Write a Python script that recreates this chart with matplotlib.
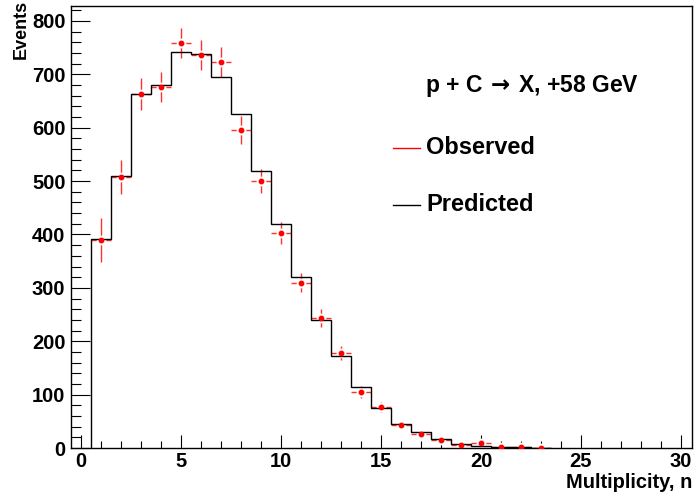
import matplotlib
matplotlib.use('Agg')
import matplotlib.pyplot as plt
import numpy as np
from matplotlib.ticker import MultipleLocator

plt.rcParams['font.family'] = ['Liberation Sans', 'DejaVu Sans']
plt.rcParams['font.weight'] = 'bold'
plt.rcParams['mathtext.default'] = 'bf'

# multiplicity bins (centred on integers)
n = [1, 2, 3, 4, 5, 6, 7, 8, 9, 10, 11, 12, 13, 14, 15, 16, 17, 18, 19, 20, 21, 22, 23]
predicted = [392, 510, 664, 680, 741, 739, 695, 626, 518, 419, 320, 239, 172,
             114, 74, 45, 30, 17, 7, 4, 1.5, 1, 0.5]
observed = [390, 508, 663, 677, 758, 737, 723, 596, 500, 403, 310, 243, 178,
            105, 77, 44, 27, 15, 6, 10, 1, 2, 0]
obs_err = [41, 32, 30, 28, 28, 28, 28, 26, 22, 21, 18, 17, 13,
           12, 9, 7, 5, 4, 3, 3, 1, 1, 0.5]

fig = plt.figure(figsize=(6.96, 4.96), dpi=100)
ax = fig.add_axes([71/696, 48/496, 621/696, 442/496])

nn = np.array(n)
edges = np.append(nn - 0.5, nn[-1] + 0.5)

# observed points with error crosses (gap around marker, ROOT style)
ax.errorbar(n, observed, xerr=0.5, yerr=obs_err, fmt='none', ecolor='#ff3030',
            elinewidth=1.0, capsize=0, zorder=2)
ax.plot(n, observed, 'o', ms=6, mfc='white', mec='white', zorder=2.5)
ax.stairs(predicted, edges, baseline=0, color='black', lw=1.0, zorder=3)
ax.plot(n, observed, 'o', ms=3.2, color='red', mec='red', zorder=4)

ax.set_xlim(-0.5, 30.55)
ax.set_ylim(0, 828)

ax.xaxis.set_major_locator(MultipleLocator(5))
ax.xaxis.set_minor_locator(MultipleLocator(1))
ax.yaxis.set_major_locator(MultipleLocator(100))
ax.yaxis.set_minor_locator(MultipleLocator(20))
ax.tick_params(axis='x', which='major', direction='in', length=9.5, width=0.8,
               labelsize=14.5, pad=3)
ax.tick_params(axis='x', which='minor', direction='in', length=5, width=0.8)
ax.tick_params(axis='y', which='major', direction='in', length=13.5, width=0.8,
               labelsize=14.5, pad=4)
ax.tick_params(axis='y', which='minor', direction='in', length=7, width=0.8)
for s in ax.spines.values():
    s.set_linewidth(1.0)

ax.set_ylabel('Events', fontsize=13, fontweight='bold')
ax.yaxis.set_label_coords(-0.067, 1.013)
ax.yaxis.label.set_ha('right')
ax.set_xlabel('Multiplicity, n', fontsize=14.5, fontweight='bold', loc='right', labelpad=1)

ax.text(0.570, 0.819, r'p + C$\,\rightarrow\,$X, +58 GeV', transform=ax.transAxes,
        fontsize=16.5, fontweight='bold', va='center', ha='left')

# legend
ax.plot([0.518, 0.562], [0.679, 0.679], color='red', lw=1.0, transform=ax.transAxes)
ax.text(0.572, 0.679, 'Observed', transform=ax.transAxes, fontsize=17,
        fontweight='bold', va='center', ha='left')
ax.plot([0.518, 0.562], [0.550, 0.550], color='black', lw=1.0, transform=ax.transAxes)
ax.text(0.572, 0.550, 'Predicted', transform=ax.transAxes, fontsize=17,
        fontweight='bold', va='center', ha='left')

fig.savefig('out.png', dpi=100)
